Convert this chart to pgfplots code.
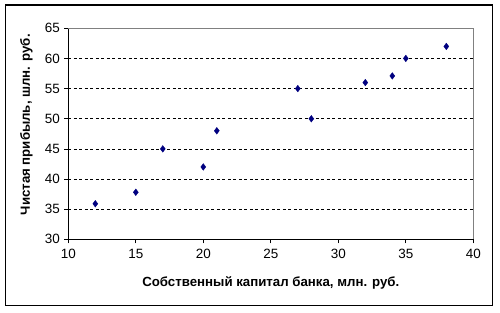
\documentclass[border=0pt]{standalone}
\usepackage{fontspec}
\setmainfont{Liberation Sans}
\usepackage{pgfplots}
\pgfplotsset{compat=1.18}
\definecolor{navy}{HTML}{000080}
\begin{document}
\begin{tikzpicture}[x=1bp,y=1bp]
\useasboundingbox (0,0) rectangle (500,312);
\fill[white] (0,0) rectangle (500,312);
\draw[black, line width=1.5bp] (5.3,6.3) rectangle (492.3,307);
\begin{axis}[
  at={(68.3bp,72.7bp)}, anchor=origin,
  scale only axis, width=405bp, height=211bp,
  xmin=10, xmax=40, ymin=30, ymax=65,
  xtick={10,15,...,40}, ytick={30,35,...,65},
  extra y ticks={35,40,...,60}, extra y tick labels={},
  extra y tick style={ymajorgrids=true, major tick length=0pt},
  grid style={black, dash pattern=on 3bp off 2.5bp, line width=0.6bp},
  axis x line*=bottom, axis y line*=left,
  axis line style={black, line width=0.7bp, -},
  tick style={black, line width=0.7bp},
  tick align=outside, major tick length=4bp,
  /pgf/number format/assume math mode=true,
  tick label style={font=\fontsize{13.5}{15}\selectfont, text=black},
  xticklabel style={yshift=-2bp},
  yticklabel style={xshift=-1bp},
  xlabel={Собственный капитал банка, млн. руб.},
  ylabel={Чистая прибыль, шлн. руб.},
  label style={font=\bfseries\fontsize{13.3}{15}\selectfont},
  xlabel style={at={(rel axis cs:0.5,0)}, anchor=center, yshift=-44bp},
  ylabel style={at={(rel axis cs:0,0.5)}, anchor=center, yshift=42bp, xshift=9bp},
  clip=false,
]
\draw[gray, line width=0.7bp] (rel axis cs:0,1) -- (rel axis cs:1,1) -- (rel axis cs:1,0);
\addplot[only marks, mark=diamond*, mark size=3.3bp, mark options={fill=navy, draw=navy}] coordinates {
(12,35.9) (15,37.8) (17,45) (20,42) (21,48) (27,55) (28,50) (32,56) (34,57.1) (35,60) (38,62)
};
\end{axis}
\end{tikzpicture}
\end{document}
